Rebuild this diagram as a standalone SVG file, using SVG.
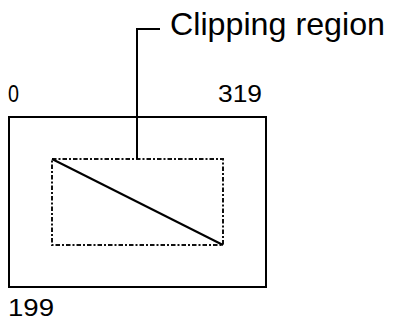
<svg xmlns="http://www.w3.org/2000/svg" width="394" height="320" viewBox="0 0 394 320">
<style>
.ln{fill:none;stroke:#000;stroke-width:2}
.clip{fill:none;stroke:#111;stroke-width:2;stroke-dasharray:4.5 2 2 2}
.t{font-family:"Liberation Sans",Arial,sans-serif;fill:#000}
</style>
<rect width="394" height="320" fill="#fff"/>
<g id="screen">
<rect class="ln" x="9" y="117" width="257" height="170"/>
<text class="t" x="8" y="102" font-size="24" textLength="11" lengthAdjust="spacingAndGlyphs">0</text>
<text class="t" x="218" y="102" font-size="24" textLength="44" lengthAdjust="spacingAndGlyphs">319</text>
<text class="t" x="8" y="316" font-size="24" textLength="46" lengthAdjust="spacingAndGlyphs">199</text>
</g>
<g id="clipping-region">
<rect class="clip" x="52" y="159" width="171" height="86"/>
<line class="ln" x1="52" y1="159" x2="223" y2="245"/>
</g>
<g id="label">
<text class="t" x="170" y="35" font-size="32" textLength="215" lengthAdjust="spacingAndGlyphs">Clipping region</text>
</g>
<g id="connectors">
<polyline class="ln" points="160,29 137,29 137,159"/>
</g>
</svg>
